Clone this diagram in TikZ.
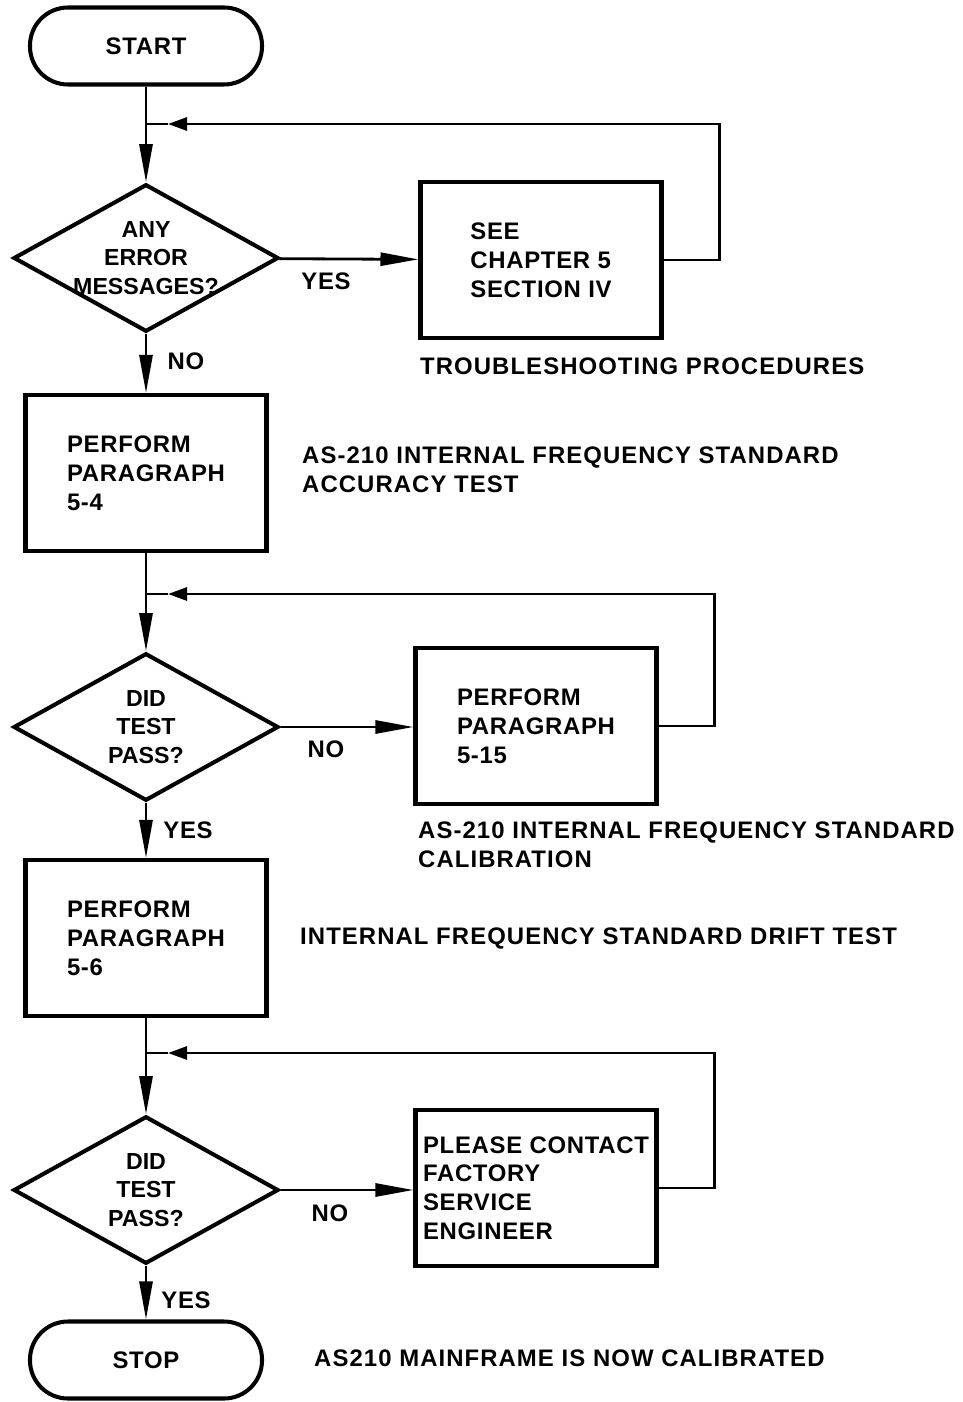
\documentclass[tikz,border=0pt]{standalone}
\usepackage{fontspec}
\setmainfont{Liberation Sans}
\usetikzlibrary{shapes.geometric, arrows.meta}

\begin{document}
\begin{tikzpicture}[
    x=0.2mm, y=-0.2mm,
    every node/.style={font=\fontsize{13.6}{16.4}\selectfont\bfseries\addfontfeatures{LetterSpace=3}},
    terminal/.style={draw, line width=2.3pt, rounded corners=0.76cm, minimum width=4.64cm, minimum height=1.54cm},
    decision/.style={draw, diamond, line width=2.3pt, aspect=1.8, inner sep=-2pt, minimum width=5.3cm, minimum height=2.95cm, align=center,
        font=\fontsize{13.2}{16.4}\selectfont\bfseries},
    process/.style={draw, line width=2.3pt, minimum width=4.82cm, minimum height=3.12cm, align=left},
    note/.style={anchor=west, align=left, font=\fontsize{13.6}{16.4}\selectfont\bfseries\addfontfeatures{LetterSpace=4.5}},
    flow/.style={line width=1.6pt, -{Triangle[length=0.76cm, width=0.26cm]}},
    back/.style={line width=1.6pt, -{Triangle[length=0.38cm, width=0.26cm]}},
    plain/.style={line width=1.6pt}
]
    \useasboundingbox (0,0) rectangle (963,1402);

    % --- Main column ---
    \node[terminal] (start) at (146,46) {START};
    \node[decision] (d1) at (146,258) {ANY\\ERROR\\MESSAGES?};
    \node[process] (b2) at (146,473) {PERFORM\\PARAGRAPH\\5-4};
    \node[decision] (d2) at (146,727) {DID\\TEST\\PASS?};
    \node[process] (b4) at (146,938) {PERFORM\\PARAGRAPH\\5-6};
    \node[decision] (d3) at (146,1190) {DID\\TEST\\PASS?};
    \node[terminal] (stop) at (146,1360) {STOP};

    % --- Side boxes ---
    \node[process] (b1) at (541,260) {SEE\\CHAPTER 5\\SECTION IV};
    \node[process] (b3) at (536,726) {PERFORM\\PARAGRAPH\\5-15};
    \node[process] (b5) at (536,1188) {PLEASE CONTACT\\FACTORY\\SERVICE\\ENGINEER};

    % --- Loop junctions ---
    \coordinate (j1) at (146,124);
    \coordinate (t1) at (168,124);
    \coordinate (j2) at (146,594);
    \coordinate (t2) at (168,594);
    \coordinate (j3) at (146,1053);
    \coordinate (t3) at (168,1053);

    % --- Connectors ---
    \draw[flow] (start) -- (d1);
    \draw[flow] (d1) -- (b1);
    \draw[flow] (d1) -- (b2);
    \draw[flow] (b2) -- (d2);
    \draw[flow] (d2.east) -- (d2.east -| b3.west);
    \draw[flow] (d2) -- (b4);
    \draw[flow] (b4) -- (d3);
    \draw[flow] (d3.east) -- (d3.east -| b5.west);
    \draw[flow] (d3) -- (stop);

    \draw[back] (b1.east) -- ++(56,0) |- (t1);
    \draw[plain] (t1) -- (j1);
    \draw[back] (b3.east) -- ++(56,0) |- (t2);
    \draw[plain] (t2) -- (j2);
    \draw[back] (b5.east) -- ++(56,0) |- (t3);
    \draw[plain] (t3) -- (j3);

    % --- Branch labels ---
    \node (yes1) at (326,281) {YES};
    \node (no1) at (186,361) {NO};
    \node (no2) at (326,749) {NO};
    \node (yes2) at (188,830) {YES};
    \node (no3) at (330,1213) {NO};
    \node (yes3) at (186,1300) {YES};

    % --- Notes ---
    \node[note] (n1) at (414,366) {TROUBLESHOOTING PROCEDURES};
    \node[note] (n2) at (296,470) {AS-210 INTERNAL FREQUENCY STANDARD\\ACCURACY TEST};
    \node[note] (n3) at (412,845) {AS-210 INTERNAL FREQUENCY STANDARD\\CALIBRATION};
    \node[note] (n4) at (294,938) {INTERNAL FREQUENCY STANDARD DRIFT TEST};
    \node[note] (n5) at (308,1358) {AS210 MAINFRAME IS NOW CALIBRATED};
\end{tikzpicture}
\end{document}
